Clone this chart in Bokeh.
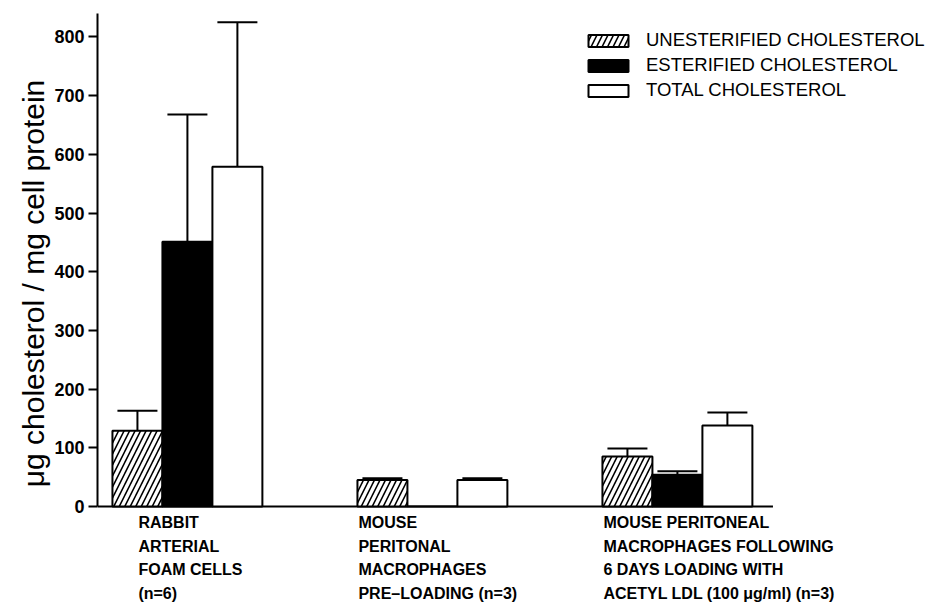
import numpy as np
from bokeh.plotting import figure
from bokeh.models import (Range1d, LinearAxis, FixedTicker, Legend, LegendItem,
                          Whisker, ColumnDataSource, TeeHead)
from bokeh.core.properties import value
from bokeh.embed import file_html
from bokeh.resources import INLINE

# ---- data ----
categories = [
    "RABBIT\nARTERIAL\nFOAM CELLS\n(n=6)",
    "MOUSE\nPERITONAL\nMACROPHAGES\nPRE\u2013LOADING (n=3)",
    "MOUSE PERITONEAL\nMACROPHAGES FOLLOWING\n6 DAYS LOADING WITH\nACETYL LDL (100 \u03bcg/ml) (n=3)",
]
series_names = ["UNESTERIFIED CHOLESTEROL", "ESTERIFIED CHOLESTEROL", "TOTAL CHOLESTEROL"]
unesterified = [129, 45, 85]
unesterified_err = [34, 3, 14]
esterified = [451, 0, 54]
esterified_err = [217, 0, 6]
total = [579, 45, 138]
total_err = [246, 3, 22]
y_ticks = [0, 100, 200, 300, 400, 500, 600, 700, 800]
y_label = "\u03bcg cholesterol / mg cell protein"

# ---- layout ----
FONT = "Liberation Sans"
PX_PER_X = 245.0           # pixels per group
PX_PER_Y = 493.0 / 840.0   # pixels per y unit
bar_w = 0.204
offsets = [-0.204, 0.0, 0.204]
label_dx = [-0.2, -0.302, -0.302]
x_start = -0.367
x_end = x_start + 838 / PX_PER_X
AXIS_END = 2.39            # where the base line stops
BELOW_PX = 97              # room under the base line for the category texts
FIRST_BASE_PX = 16
LINE_PX = 23.5

p = figure(width=935, height=603, output_backend="svg", toolbar_location=None,
           x_range=Range1d(x_start, x_end),
           y_range=Range1d(-BELOW_PX / PX_PER_Y, 840),
           x_axis_location=None, y_axis_location=None,
           min_border_left=97, min_border_right=0, min_border_top=13, min_border_bottom=0)
p.outline_line_color = None
p.xgrid.visible = False
p.ygrid.visible = False
p.background_fill_color = "white"
p.border_fill_color = "white"

# y axis, drawn only from 0 upwards; title padded so it sits where the reference has it
yax = LinearAxis(ticker=FixedTicker(ticks=y_ticks), bounds=(0, 840),
                 axis_label="\u00a0" * 6 + y_label)
yax.axis_line_width = 2
yax.major_tick_line_width = 2
yax.major_tick_out = 9
yax.major_tick_in = 0
yax.minor_tick_out = 0
yax.minor_tick_in = 0
yax.major_label_text_font = FONT
yax.major_label_text_font_style = "bold"
yax.major_label_text_font_size = "18px"
yax.major_label_text_color = "black"
yax.major_label_standoff = 4
yax.axis_label_text_font = FONT
yax.axis_label_text_font_style = "normal"
yax.axis_label_text_font_size = "30px"
yax.axis_label_text_color = "black"
yax.axis_label_standoff = 1
p.add_layout(yax, "left")

# base line (x axis line) at y = 0
p.segment(x0=[x_start], y0=[y_ticks[0]], x1=[AXIS_END], y1=[y_ticks[0]],
          line_color="black", line_width=2)

xs = np.arange(len(categories))
values = [unesterified, esterified, total]
errors = [unesterified_err, esterified_err, total_err]
styles = [
    dict(fill_color="white", hatch_pattern="/", hatch_color="black", hatch_weight=1.6, hatch_scale=11),
    dict(fill_color="black"),
    dict(fill_color="white"),
]

renderers = []
for k in range(3):
    src = ColumnDataSource(dict(x=xs + offsets[k], top=values[k]))
    r = p.vbar(x="x", top="top", width=bar_w, bottom=0, source=src,
               line_color="black", line_width=2, **styles[k])
    renderers.append(r)
    mask = np.array(errors[k]) > 0
    wsrc = ColumnDataSource(dict(x=(xs + offsets[k])[mask],
                                 lower=np.array(values[k])[mask],
                                 upper=(np.array(values[k]) + np.array(errors[k]))[mask]))
    w = Whisker(base="x", lower="lower", upper="upper", source=wsrc, dimension="height",
                line_color="black", line_width=2,
                upper_head=TeeHead(size=40, line_width=2, line_color="black"),
                lower_head=None)
    p.add_layout(w)

legend = Legend(items=[LegendItem(label=series_names[k], renderers=[renderers[k]]) for k in range(3)],
                location=(486, 406 + BELOW_PX - 1))
legend.border_line_color = None
legend.background_fill_alpha = 0
legend.padding = 0
legend.margin = 0
legend.spacing = 3
legend.glyph_width = 50
legend.glyph_height = 15
legend.label_height = 22
legend.label_standoff = 13
legend.label_text_font = FONT
legend.label_text_font_size = "18.5px"
legend.label_text_color = "black"
p.add_layout(legend)

# category texts under the base line, left-aligned, one glyph per line
lx, ly, lt = [], [], []
for i, cat in enumerate(categories):
    for j, line in enumerate(cat.split("\n")):
        lx.append(float(xs[i] + label_dx[i]))
        ly.append(-(FIRST_BASE_PX + LINE_PX * j) / PX_PER_Y)
        lt.append(line)
p.text(x=lx, y=ly, text=lt, text_font=value(FONT), text_font_style="bold",
       text_font_size="16px", text_color="black", text_align="left",
       text_baseline="alphabetic")

open("out.html", "w").write(file_html(p, INLINE))
